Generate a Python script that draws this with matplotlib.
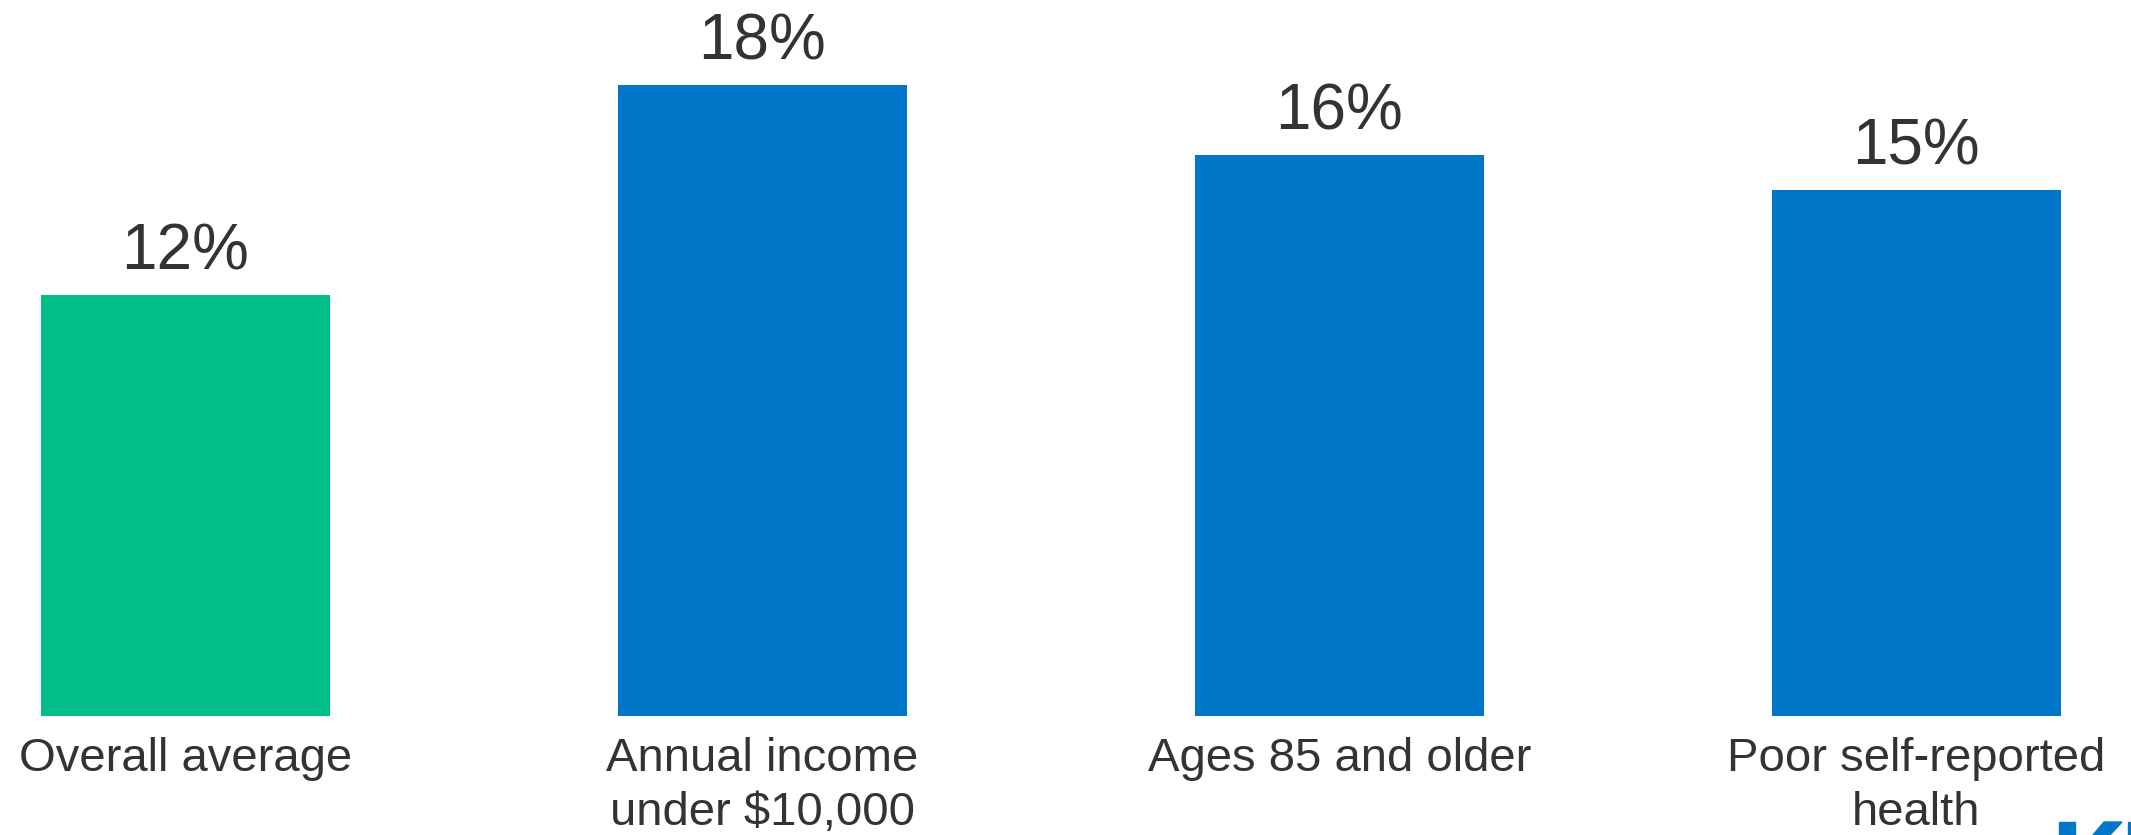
import matplotlib.pyplot as plt
from matplotlib.patches import Polygon

# -------------------------
# Data
# -------------------------
categories = ["Overall average", "Annual income\nunder $10,000",
              "Ages 85 and older", "Poor self-reported\nhealth"]
values = [12, 18, 16, 15]
colors = ["#00BE88", "#0077C8", "#0077C8", "#0077C8"]

plt.rcParams["font.family"] = ["Liberation Sans", "DejaVu Sans"]
text_color = "#333333"

# -------------------------
# Plot
# -------------------------
fig = plt.figure(figsize=(21.31, 8.35), dpi=100)
ax = fig.add_axes([0, 0, 1, 1])

x = list(range(len(categories)))
ax.bar(x, values, width=0.5, color=colors)

ax.set_xlim(-0.3215, 3.372)
ax.set_ylim(-3.39, 20.42)
ax.axis("off")

# value labels above bars
for i, v in enumerate(values):
    ax.annotate(f"{v}%", (i, v), xytext=(0, 9), textcoords="offset points",
                ha="center", va="bottom", fontsize=46, color=text_color)

# category labels below bars
for i, c in enumerate(categories):
    ax.annotate(c, (i, 0), xytext=(0, -15), textcoords="offset points",
                ha="center", va="top", fontsize=34, color=text_color,
                linespacing=1.3)

# partial logo peeking in at the bottom-right corner (pixel coords)
logo = "#0077C8"
fig.patches.append(Polygon([(2059, 0), (2075, 0), (2075, 13), (2059, 13)],
                           closed=True, color=logo, transform=None))
fig.patches.append(Polygon([(2093, 0), (2110, 0), (2122, 13), (2104, 13)],
                           closed=True, color=logo, transform=None))
fig.patches.append(Polygon([(2128, 0), (2131, 0), (2131, 13), (2128, 13)],
                           closed=True, color=logo, transform=None))

fig.savefig("out.png", dpi=100)
